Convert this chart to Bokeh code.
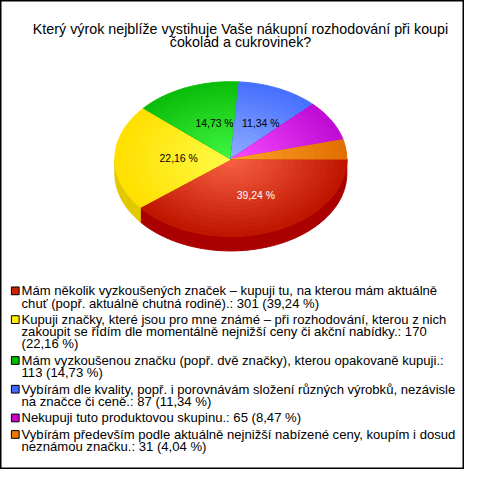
import math
import unicodedata
from bokeh.plotting import figure
from bokeh.models import Range1d
from bokeh.embed import file_html
from bokeh.resources import INLINE
from bokeh.core.properties import value

# ---------------- data ----------------
title_lines = ["Který výrok nejblíže vystihuje Vaše nákupní rozhodování při koupi",
               "čokolád a cukrovinek?"]
categories = [
    "Mám několik vyzkoušených značek – kupuji tu, na kterou mám aktuálně chuť (popř. aktuálně chutná rodině).",
    "Kupuji značky, které jsou pro mne známé – při rozhodování, kterou z nich zakoupit se řídím dle momentálně nejnižší ceny či akční nabídky.",
    "Mám vyzkoušenou značku (popř. dvě značky), kterou opakovaně kupuji.",
    "Vybírám dle kvality, popř. i porovnávám složení různých výrobků, nezávisle na značce či ceně.",
    "Nekupuji tuto produktovou skupinu.",
    "Vybírám především podle aktuálně nejnižší nabízené ceny, koupím i dosud neznámou značku.",
]
counts = [301, 170, 113, 87, 65, 31]
percents = [39.24, 22.16, 14.73, 11.34, 8.47, 4.04]

# ---------------- styles ----------------
rim_colors = [(192, 22, 0), (255, 224, 0), (12, 190, 12), (72, 112, 255), (192, 12, 212), (226, 112, 0)]
center_colors = [(246, 96, 66), (255, 250, 70), (64, 246, 64), (142, 172, 255), (246, 74, 255), (255, 162, 40)]
side_colors = ["#aa0000", "#e2c800", "#0a9a0a", "#3a5ad0", "#9a00a8", "#c05a00"]
legend_colors = ["#cc2200", "#ffee00", "#00bb00", "#4466ff", "#cc00cc", "#ee7700"]
label_colors = ["white", "black", "black", "black", "black", "black"]

FONT = "Liberation Sans"
W, H = 464, 469
sx, sy = W / 480.0, H / 485.0
off = 8.0
p = figure(width=W, height=H, output_backend="svg", toolbar_location=None,
           x_range=Range1d(-off / sx, 480 - off / sx), y_range=Range1d(485 - off / sy, -off / sy),
           min_border=0, min_border_left=0, min_border_right=0,
           min_border_top=0, min_border_bottom=0)
p.axis.visible = False
p.grid.visible = False
p.background_fill_color = "white"
p.border_fill_color = "white"
p.outline_line_color = "black"
p.outline_line_width = 2

# ---------------- title ----------------
p.text(x=[240, 240], y=[21, 35], text=title_lines,
       text_font=value(FONT), text_font_size="14.3px", text_color="black",
       text_align="center", text_baseline="middle")

# ---------------- pie ----------------
cx, cy, rx, ry, depth = 230, 155.7, 120, 80, 15
total = sum(counts)
angles = []
a = 0.0
for c in counts:
    angles.append((a, a + 2 * math.pi * c / total))
    a += 2 * math.pi * c / total


def arc(a1, a2, f=1.0, dy=0.0, n=None):
    if n is None:
        n = max(2, int(abs(a2 - a1) / (math.pi / 180)) + 2)
    xs, ys = [], []
    for i in range(n + 1):
        t = a1 + (a2 - a1) * i / n
        xs.append(cx + f * rx * math.cos(t))
        ys.append(cy + f * ry * math.sin(t) + dy)
    return xs, ys


def hexc(c):
    return "#%02x%02x%02x" % tuple(int(round(v)) for v in c)


for i, (a1, a2) in enumerate(angles):
    s1, s2 = max(a1, 0.0), min(a2, math.pi)
    if s2 <= s1:
        continue
    tx, ty = arc(s1, s2)
    bx, by = arc(s2, s1, dy=depth)
    p.patch(tx + bx, ty + by, fill_color=side_colors[i], line_color=side_colors[i], line_width=1)

N = 18
for i, (a1, a2) in enumerate(angles):
    for k in range(N):
        f = 1.0 - k / N
        t = k / (N - 1)
        col = [rim_colors[i][j] + (center_colors[i][j] - rim_colors[i][j]) * t for j in range(3)]
        xs, ys = arc(a1, a2, f=f)
        xs = [cx] + xs
        ys = [cy] + ys
        if k == 0:
            p.patch(xs, ys, fill_color=hexc(col), line_color=hexc(col), line_width=1)
        else:
            p.patch(xs, ys, fill_color=hexc(col), line_color=None)

lx, ly, lt, lc = [], [], [], []
for i, (a1, a2) in enumerate(angles):
    if percents[i] < 10:
        continue
    m = (a1 + a2) / 2
    lx.append(cx + 0.5 * rx * math.cos(m) + 6)
    ly.append(cy + 0.5 * ry * math.sin(m) + 0)
    lt.append(("%.2f" % percents[i]).replace(".", ",") + " %")
    lc.append(label_colors[i])
p.text(x=lx, y=ly, text=lt, text_color=lc, text_font=value(FONT), text_font_size="10.4px",
       text_align="center", text_baseline="middle")

WID = {' ': 278, '\u00a0': 278, 'a': 556, 'b': 556, 'c': 500, 'd': 556, 'e': 556, 'f': 278, 'g': 556,
       'h': 556, 'i': 222, 'j': 222, 'k': 500, 'l': 222, 'm': 833, 'n': 556, 'o': 556, 'p': 556,
       'q': 556, 'r': 333, 's': 500, 't': 278, 'u': 556, 'v': 500, 'w': 722, 'x': 500, 'y': 500,
       'z': 500, ',': 278, '.': 278, ':': 278, '(': 333, ')': 333, '%': 889, '\u2013': 556,
       'K': 667, 'M': 833, 'N': 722, 'V': 667}


def width_em(s):
    tot = 0
    for ch in s:
        base = unicodedata.normalize("NFD", ch)[0]
        if base.isdigit():
            tot += 556
        else:
            tot += WID.get(base, 600)
    return tot / 1000.0


def wrap(s, limit=33.4):
    words = s.split(" ")
    lines, cur = [], ""
    for w in words:
        cand = w if not cur else cur + " " + w
        if width_em(cand) <= limit or not cur:
            cur = cand
        else:
            lines.append(cur)
            cur = w
    lines.append(cur)
    return [ln.replace("\u00a0", " ") for ln in lines]


L, G = 12.6, 4.5
y = 292.0
tx, ty, tt = [], [], []
sq_y = []
for i, cat in enumerate(categories):
    label = "%s: %d (%s\u00a0%%)" % (cat, counts[i], ("%.2f" % percents[i]).replace(".", ","))
    lines = wrap(label)
    sq_y.append(y)
    for ln in lines:
        tx.append(13.5)
        ty.append(y)
        tt.append(ln)
        y += L
    y += G

p.rect(x=[7] * len(sq_y), y=sq_y, width=8, height=8, fill_color=legend_colors,
       line_color="black", line_width=1)
p.text(x=tx, y=ty, text=tt, text_font=value(FONT), text_font_size="13.1px", text_color="black",
       text_align="left", text_baseline="middle")

open("out.html", "w").write(file_html(p, INLINE))
